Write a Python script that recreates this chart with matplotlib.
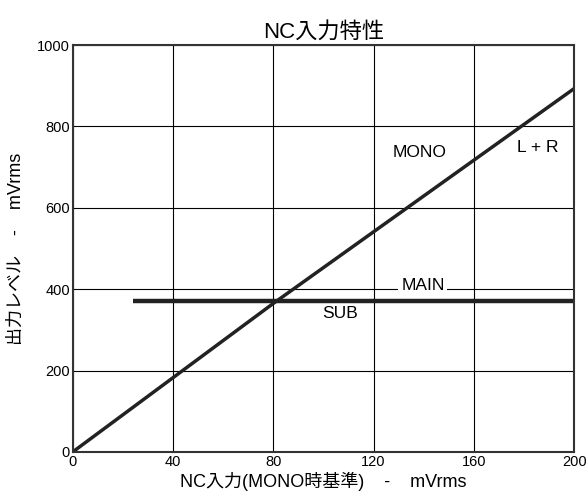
import matplotlib.pyplot as plt
from matplotlib import ticker

plt.rcParams['font.family'] = ['Liberation Sans', 'Noto Sans CJK JP', 'DejaVu Sans']

# data
mono_x = [0, 80, 200]
mono_y = [0, 365, 893]
sub_x = [24, 200]
sub_y = [371, 371]
main_level = 400
xticks = [0, 40, 80, 120, 160, 200]
yticks = [0, 200, 400, 600, 800, 1000]

fig = plt.figure(figsize=(5.87, 5.01), dpi=100)
ax = fig.add_axes([0.124, 0.098, 0.854, 0.812])

ax.set_xlim(0, 200)
ax.set_ylim(0, 1000)
ax.xaxis.set_major_locator(ticker.FixedLocator(xticks))
ax.yaxis.set_major_locator(ticker.FixedLocator(yticks))
ax.grid(True, color='black', lw=0.8)
ax.tick_params(length=0, labelsize=10.5, pad=2)
for s in ax.spines.values():
    s.set_linewidth(1.5)
    s.set_color('#333333')

ax.plot(mono_x, mono_y, c='#222222', lw=2.5, solid_capstyle='butt')
ax.plot(sub_x, sub_y, c='#222222', lw=3.2, solid_capstyle='butt')

ax.text(138.5, 735, 'MONO', fontsize=12.5, ha='center', va='center')
ax.text(185.6, 749, 'L + R', fontsize=12.5, ha='center', va='center')
ax.text(139.7, main_level + 10, 'MAIN', fontsize=12.5, ha='center', va='center',
        bbox=dict(facecolor='white', edgecolor='none', pad=2))
ax.text(106.6, 339, 'SUB', fontsize=12.5, ha='center', va='center')

ax.set_title('NC入力特性', fontsize=16, pad=5)
ax.set_xlabel('NC入力(MONO時基準)    -    mVrms', fontsize=13, labelpad=2)
ax.set_ylabel('出力レベル    -    mVrms', fontsize=13, labelpad=9)

fig.savefig('out.png', dpi=100)
